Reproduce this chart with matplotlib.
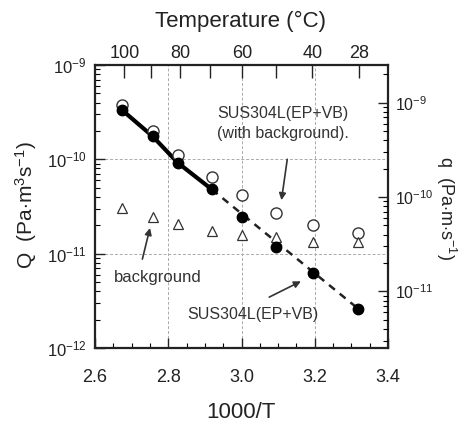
import numpy as np
import matplotlib
matplotlib.use("Agg")
import matplotlib.pyplot as plt
from matplotlib.ticker import LogLocator, FixedLocator, NullFormatter, MultipleLocator

plt.rcParams['font.family'] = ['Liberation Sans', 'DejaVu Sans']
plt.rcParams['mathtext.fontset'] = 'custom'
plt.rcParams['mathtext.rm'] = 'Liberation Sans'
plt.rcParams['mathtext.it'] = 'Liberation Sans'
plt.rcParams['mathtext.bf'] = 'Liberation Sans'

# ---- data ----
inv_T = [2.675, 2.757, 2.826, 2.919, 3.000, 3.094, 3.196, 3.319]
Q_sample = [3.3e-10, 1.76e-10, 9.2e-11, 4.8e-11, 2.45e-11, 1.17e-11, 6.2e-12, 2.6e-12]
Q_with_bg = [3.75e-10, 2.0e-10, 1.1e-10, 6.5e-11, 4.2e-11, 2.7e-11, 2.0e-11, 1.66e-11]
Q_bg = [3.03e-11, 2.43e-11, 2.07e-11, 1.76e-11, 1.59e-11, 1.52e-11, 1.32e-11, 1.34e-11]
temps_C = [100, 90, 80, 70, 60, 50, 40, 28]
temp_labels = ['100', '', '80', '', '60', '', '40', '28']
x_ticks = [2.6, 2.8, 3.0, 3.2, 3.4]
x_ticklabels = ['2.6', '2.8', '3.0', '3.2', '3.4']

TXT = '#222222'
fig = plt.figure(figsize=(4.58, 4.25), dpi=100)
W, H = 458, 425
L, R, T, B = 95, 388, 65, 348
ax = fig.add_axes([L / W, 1 - B / H, (R - L) / W, (B - T) / H])

ax.set_xlim(2.6, 3.4)
ax.set_yscale('log')
ax.set_ylim(1e-12, 1e-9)

# grid
for gx in [2.8, 3.0, 3.2]:
    ax.axvline(gx, color='#aaaaaa', lw=0.7, ls=(0, (3, 2)), zorder=0)
for gy in [1e-10, 1e-11]:
    ax.axhline(gy, color='#aaaaaa', lw=0.7, ls=(0, (3, 2)), zorder=0)

# lines
ax.plot(inv_T[:4], Q_sample[:4], color='black', lw=3.0, zorder=2)
ax.plot([inv_T[3], inv_T[7]], [Q_sample[3], Q_sample[7]], color='#222222', lw=1.8,
        ls=(0, (3, 2.5)), zorder=2)

# markers
ax.plot(inv_T, Q_with_bg, 'o', ms=8, mfc='white', mec='#333333', mew=1.0, ls='none', zorder=3)
ax.plot(inv_T, Q_sample, 'o', ms=7.5, mfc='black', mec='black', ls='none', zorder=4)
ax.plot(inv_T, Q_bg, '^', ms=7, mfc='white', mec='#333333', mew=0.9, ls='none', zorder=3)

# ticks
ax.set_xticks(x_ticks, x_ticklabels)
ax.xaxis.set_minor_locator(MultipleLocator(0.05))
ax.yaxis.set_major_locator(FixedLocator([1e-12, 1e-11, 1e-10, 1e-9]))
ax.yaxis.set_minor_locator(LogLocator(base=10, subs=np.arange(2, 10), numticks=10))
ax.yaxis.set_minor_formatter(NullFormatter())
ax.tick_params(axis='both', which='major', direction='in', length=7, width=1.0,
               labelsize=13, colors=TXT)
ax.tick_params(axis='x', which='major', pad=15)
ax.tick_params(axis='y', which='major', labelsize=12, pad=6)
ax.tick_params(axis='both', which='minor', direction='in', length=3.5, width=0.8)
for sp in ax.spines.values():
    sp.set_linewidth(1.6)
    sp.set_color(TXT)

# top temperature axis
axt = ax.twiny()
axt.set_xlim(ax.get_xlim())
axt.set_xticks([1000.0 / (t + 273.15) for t in temps_C], temp_labels)
axt.tick_params(axis='x', direction='in', length=9, width=1.0, labelsize=13, pad=2,
                colors=TXT)
for sp in axt.spines.values():
    sp.set_visible(False)

# right q axis
axr = ax.twinx()
axr.set_yscale('log')
axr.set_ylim(10 ** -11.6, 10 ** -8.6)
axr.yaxis.set_major_locator(FixedLocator([1e-11, 1e-10, 1e-9]))
axr.yaxis.set_minor_locator(LogLocator(base=10, subs=np.arange(2, 10), numticks=10))
axr.yaxis.set_minor_formatter(NullFormatter())
axr.tick_params(axis='y', which='major', direction='in', length=7, width=1.0,
                labelsize=11.5, pad=5, colors=TXT)
axr.tick_params(axis='y', which='minor', direction='in', length=3.5, width=0.8)
for sp in axr.spines.values():
    sp.set_visible(False)

# axis titles
fig.text(241 / W, 1 - 21 / H, 'Temperature (\u00b0C)', ha='center', va='center',
         fontsize=16, color=TXT)
fig.text(241 / W, 1 - 413 / H, '1000/T', ha='center', va='center',
         fontsize=16, color=TXT)
fig.text(26 / W, 1 - 205 / H, r'Q  (Pa$\cdot$m$^{3}$s$^{-1}$)', ha='center', va='center',
         rotation=90, fontsize=15, color=TXT)
fig.text(446 / W, 1 - 208 / H, r'q  (Pa$\cdot$m$\cdot$s$^{-1}$)', ha='center', va='center',
         rotation=270, fontsize=13, color=TXT)

# annotations
ax.text(0.64, 0.793, 'SUS304L(EP+VB)\n(with background).', transform=ax.transAxes,
        ha='center', va='center', fontsize=11.5, color='#333333', linespacing=1.45)
ax.annotate('', xy=(3.108, 3.45e-11), xytext=(3.126, 1.07e-10),
            arrowprops=dict(arrowstyle='-|>', color='#333333', lw=1.2, mutation_scale=10))

ax.text(0.213, 0.25, 'background', transform=ax.transAxes,
        ha='center', va='center', fontsize=12, color='#333333')
ax.annotate('', xy=(2.752, 2.0e-11), xytext=(2.7275, 8.2e-12),
            arrowprops=dict(arrowstyle='-|>', color='#333333', lw=1.2, mutation_scale=10))

ax.text(0.54, 0.117, 'SUS304L(EP+VB)', transform=ax.transAxes,
        ha='center', va='center', fontsize=11.5, color='#333333')
ax.annotate('', xy=(3.169, 5.25e-12), xytext=(3.069, 3.36e-12),
            arrowprops=dict(arrowstyle='-|>', color='#333333', lw=1.2, mutation_scale=10))

fig.savefig('out.png', dpi=100)
